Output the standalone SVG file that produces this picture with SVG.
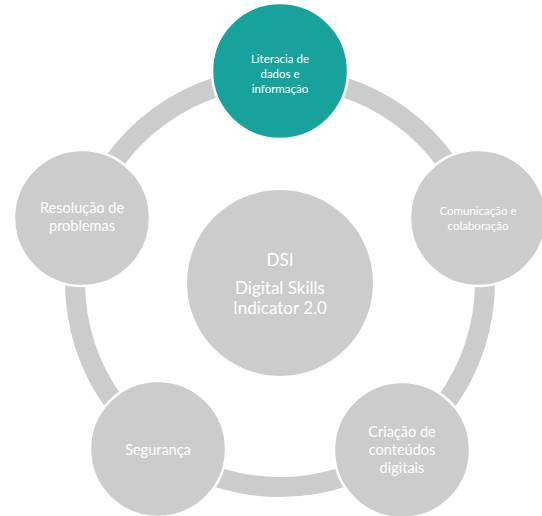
<svg xmlns="http://www.w3.org/2000/svg" width="542" height="516" viewBox="0 0 542 516">
<style>
.ring{fill:none;stroke:#cccccc;stroke-width:20}
.node{fill:#cccccc;stroke:#ffffff;stroke-width:2.5}
.hl{fill:#17a39b}
text{font-family:Lato,"Liberation Sans",sans-serif;fill:#ffffff;text-anchor:middle}
.s{font-size:11.5px}
.m{font-size:14.5px}
.l{font-size:17px}
</style>
<rect width="542" height="516" fill="#ffffff"/>
<g id="connectors">
<path class="ring" d="M280 77 A205 205 0 0 1 475 218.6"/>
<path class="ring" d="M475 218.6 A205 205 0 0 1 400.5 447.8"/>
<path class="ring" d="M400.5 447.8 A205 205 0 0 1 159.5 447.8"/>
<path class="ring" d="M159.5 447.8 A205 205 0 0 1 85 218.6"/>
<path class="ring" d="M85 218.6 A205 205 0 0 1 280 77"/>
</g>
<g id="center">
<circle cx="280" cy="283" r="93" fill="#cccccc"/>
<text class="l" x="280" y="266">DSI</text>
<text class="l" x="280" y="294">Digital Skills</text>
<text class="l" x="280" y="314">Indicator 2.0</text>
</g>
<g id="n1">
<circle class="node hl" cx="280" cy="71" r="68"/>
<text class="s" x="280" y="63">Literacia de</text>
<text class="s" x="280" y="78">dados e</text>
<text class="s" x="280" y="93">informação</text>
</g>
<g id="n2">
<circle class="node" cx="478" cy="218" r="68"/>
<text class="s" x="478" y="215">Comunicação e</text>
<text class="s" x="478" y="230">colaboração</text>
</g>
<g id="n3">
<circle class="node" cx="402" cy="450" r="68"/>
<text class="m" x="402" y="437">Criação de</text>
<text class="m" x="402" y="455">conteúdos</text>
<text class="m" x="402" y="473">digitais</text>
</g>
<g id="n4">
<circle class="node" cx="158" cy="449" r="68"/>
<text class="m" x="158" y="455">Segurança</text>
</g>
<g id="n5">
<circle class="node" cx="82" cy="218" r="68"/>
<text class="m" x="82" y="213">Resolução de</text>
<text class="m" x="82" y="231">problemas</text>
</g>
</svg>
